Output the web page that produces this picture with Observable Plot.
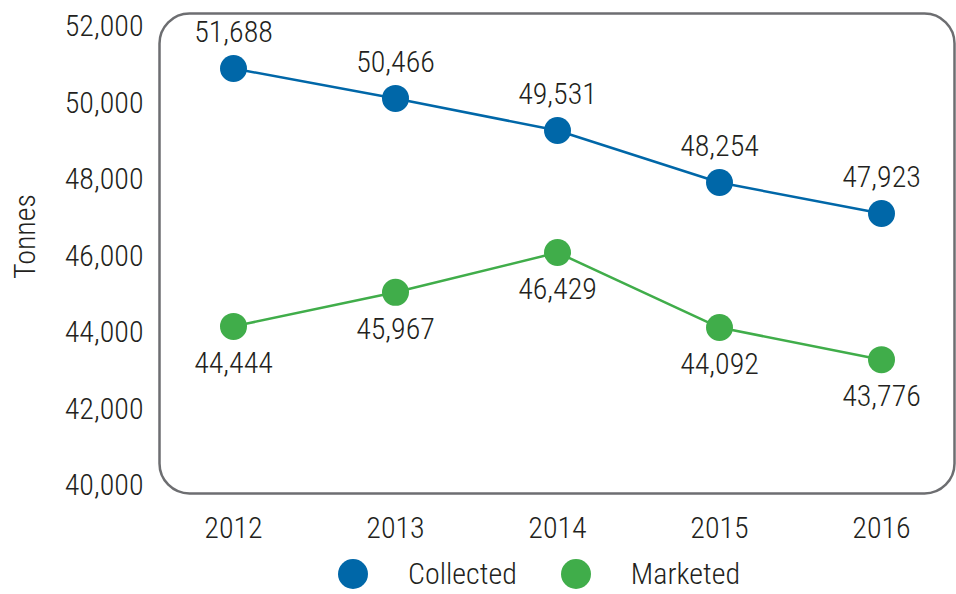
<!DOCTYPE html>
<html>
<head>
<meta charset="utf-8">
<script src="https://cdn.jsdelivr.net/npm/d3@7"></script>
<script src="https://cdn.jsdelivr.net/npm/@observablehq/plot@0.6"></script>
<style>
  html, body { margin: 0; padding: 0; background: #fff; }
  body { width: 956px; height: 594px; overflow: hidden; font-family: "Roboto Condensed", "Roboto", sans-serif; font-weight: 300; color: #231f20; }
  #legend { display: flex; align-items: center; height: 36px; padding-top: 4px; padding-left: 338px; font-size: 30px; line-height: 34px; }
  #legend .sw { width: 30px; height: 30px; border-radius: 50%; display: inline-block; }
  #legend .item { display: flex; align-items: center; }
  svg text { font-weight: 300; }
</style>
</head>
<body>
<div id="chart"></div>
<div id="legend"></div>
<script>
const years = [2012, 2013, 2014, 2015, 2016];
// positions of the markers as drawn
const collected = [50900, 50120, 49280, 47920, 47110];
const marketed = [44160, 45050, 46090, 44130, 43290];
// data labels printed next to the markers
const collectedLabels = [51688, 50466, 49531, 48254, 47923];
const marketedLabels = [44444, 45967, 46429, 44092, 43776];
const yTicks = [40000, 42000, 44000, 46000, 48000, 50000, 52000];
const seriesNames = ["Collected", "Marketed"];
const colors = ["#0067a8", "#40ad4a"];

const fmt = d3.format(",");
const colData = years.map((y, i) => ({year: y, value: collected[i], label: collectedLabels[i]}));
const mktData = years.map((y, i) => ({year: y, value: marketed[i], label: marketedLabels[i]}));
const textColor = "#231f20";

const chart = Plot.plot({
  width: 956,
  height: 552,
  marginLeft: 159,
  marginRight: 2,
  marginTop: 13,
  marginBottom: 59,
  style: {fontFamily: "'Roboto Condensed', 'Roboto', sans-serif", fontSize: "30px", color: textColor, background: "white", overflow: "visible"},
  x: {type: "point", domain: years, padding: 0.45},
  y: {domain: [40000, 52000], insetTop: 13, insetBottom: 8},
  marks: [
    Plot.frame({rx: 30, ry: 30, stroke: "#6d6e71", strokeWidth: 2.5}),
    Plot.axisY({ticks: yTicks, tickSize: 0, tickPadding: 16, tickFormat: fmt, label: null, fill: textColor}),
    Plot.axisX({tickSize: 0, tickPadding: 23, tickFormat: d => String(d), label: null, fill: textColor}),
    Plot.text(["Tonnes"], {frameAnchor: "left", textAnchor: "middle", rotate: -90, dx: -134, dy: -17, fill: textColor, fontSize: 30}),
    Plot.line(colData, {x: "year", y: "value", stroke: colors[0], strokeWidth: 2.5}),
    Plot.line(mktData, {x: "year", y: "value", stroke: colors[1], strokeWidth: 2.5}),
    Plot.dot(colData, {x: "year", y: "value", r: 13.5, fill: colors[0]}),
    Plot.dot(mktData, {x: "year", y: "value", r: 13.5, fill: colors[1]}),
    Plot.text(colData, {x: "year", y: "value", text: d => fmt(d.label), dy: -36, lineAnchor: "middle", fill: textColor, fontSize: 30}),
    Plot.text(mktData, {x: "year", y: "value", text: d => fmt(d.label), dy: 37, lineAnchor: "middle", fill: textColor, fontSize: 30})
  ]
});
document.getElementById("chart").appendChild(chart);

const legend = document.getElementById("legend");
seriesNames.forEach((name, i) => {
  const item = document.createElement("div");
  item.className = "item";
  item.style.marginRight = i === 0 ? "44px" : "0";
  const sw = document.createElement("span");
  sw.className = "sw";
  sw.style.background = colors[i];
  const lab = document.createElement("span");
  lab.textContent = name;
  lab.style.marginLeft = "40px";
  item.appendChild(sw);
  item.appendChild(lab);
  legend.appendChild(item);
});
</script>
</body>
</html>
